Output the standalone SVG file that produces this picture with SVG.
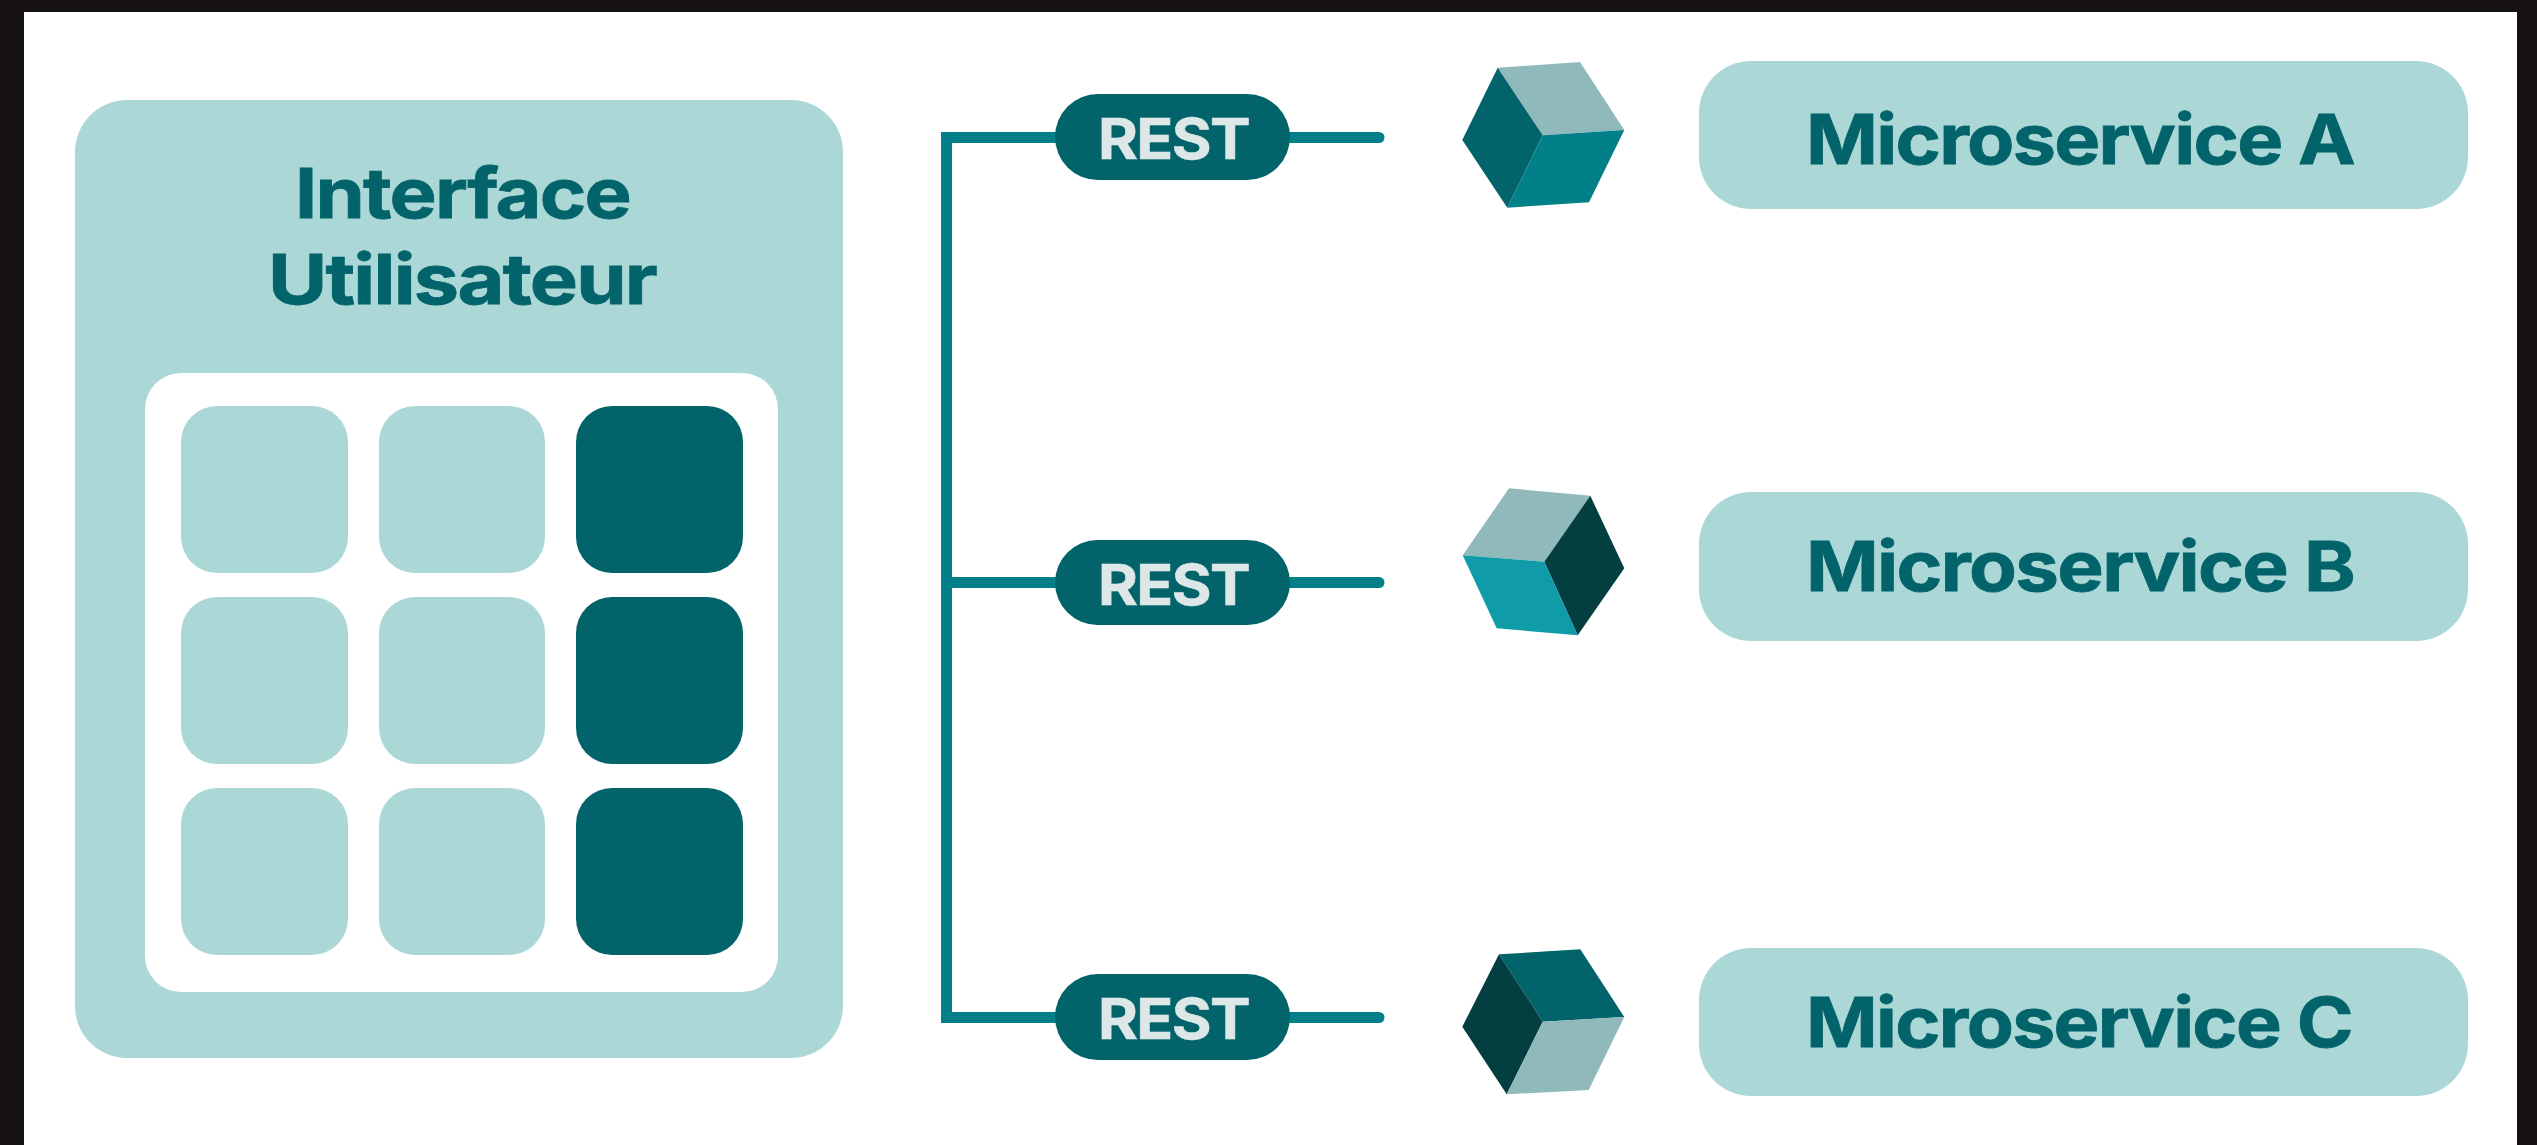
<svg xmlns="http://www.w3.org/2000/svg" width="2537" height="1145" viewBox="0 0 2537 1145">
<style>
.light{fill:#acd7d7}
.dark{fill:#02646a}
.title{font-family:Inter,"Liberation Sans",sans-serif;font-weight:700;fill:#02646a;font-size:69px;letter-spacing:-1.500px;stroke:#02646a;stroke-width:.8px}
.rest{font-family:Inter,"Liberation Sans",sans-serif;font-weight:700;fill:#dde7e7;font-size:57px;letter-spacing:-1.500px;stroke:#dde7e7;stroke-width:.6px}
.line{fill:none;stroke:#02808a;stroke-width:11}
</style>
<rect width="2537" height="1145" fill="#171312"/>
<rect x="24" y="12" width="2493" height="1133" fill="#fff"/>
<g id="connectors" class="line">
<path d="M1060 137.500H946.500V1017.500H1060"/>
<path d="M946.500 582.500H1060"/>
<path d="M1285 137.500H1379" stroke-linecap="round"/>
<path d="M1285 582.500H1379" stroke-linecap="round"/>
<path d="M1285 1017.500H1379" stroke-linecap="round"/>
</g>
<g id="ui">
<rect class="light" x="75" y="100" width="768" height="958" rx="52"/>
<text class="title" x="295" y="218" textLength="335" lengthAdjust="spacingAndGlyphs">Interface</text>
<text class="title" x="268" y="304" textLength="388" lengthAdjust="spacingAndGlyphs">Utilisateur</text>
<rect x="145" y="373" width="633" height="619" rx="36" fill="#fff"/>
<g id="tiles">
<rect class="light" x="181" y="406" width="167" height="167" rx="36"/>
<rect class="light" x="379" y="406" width="166" height="167" rx="36"/>
<rect class="dark" x="576" y="406" width="167" height="167" rx="36"/>
<rect class="light" x="181" y="597" width="167" height="167" rx="36"/>
<rect class="light" x="379" y="597" width="166" height="167" rx="36"/>
<rect class="dark" x="576" y="597" width="167" height="167" rx="36"/>
<rect class="light" x="181" y="788" width="167" height="167" rx="36"/>
<rect class="light" x="379" y="788" width="166" height="167" rx="36"/>
<rect class="dark" x="576" y="788" width="167" height="167" rx="36"/>
</g>
</g>
<g id="rest-a">
<rect class="dark" x="1055" y="94" width="235" height="86" rx="43"/>
<text class="rest" x="1098" y="159" textLength="151" lengthAdjust="spacingAndGlyphs">REST</text>
</g>
<g id="rest-b">
<rect class="dark" x="1055" y="540" width="235" height="85" rx="42.500"/>
<text class="rest" x="1098" y="605" textLength="151" lengthAdjust="spacingAndGlyphs">REST</text>
</g>
<g id="rest-c">
<rect class="dark" x="1055" y="974" width="235" height="86" rx="43"/>
<text class="rest" x="1098" y="1039" textLength="151" lengthAdjust="spacingAndGlyphs">REST</text>
</g>
<g id="cube-a">
<polygon fill="#8fb9ba" points="1497.700,67.700 1580,62 1624.300,130 1542.700,135.300"/>
<polygon fill="#02646a" points="1497.700,67.700 1542.700,135.300 1507.300,207.700 1462.300,140"/>
<polygon fill="#02808a" points="1542.700,135.300 1624.300,130 1589,202.300 1507.300,207.700"/>
</g>
<g id="cube-b">
<polygon fill="#8fb9ba" points="1509,488.300 1590.300,495.700 1544.300,561.700 1462.700,555.300"/>
<polygon fill="#033f40" points="1590.300,495.700 1624.300,568.300 1577.700,635.300 1544.300,561.700"/>
<polygon fill="#0f9ca8" points="1462.700,555.300 1544.300,561.700 1577.700,635.300 1496.700,628.300"/>
</g>
<g id="cube-c">
<polygon fill="#02646a" points="1499,954.300 1580.300,949.300 1624.300,1017 1542.700,1021.700"/>
<polygon fill="#033f40" points="1499,954.300 1542.700,1021.700 1506.700,1094.300 1462.300,1026.700"/>
<polygon fill="#8fb9ba" points="1542.700,1021.700 1624.300,1017 1588.700,1090 1506.700,1094.300"/>
</g>
<g id="microservice-a">
<rect class="light" x="1699" y="61" width="769" height="148" rx="52"/>
<text class="title" x="1806" y="163.500" textLength="548" lengthAdjust="spacingAndGlyphs">Microservice A</text>
</g>
<g id="microservice-b">
<rect class="light" x="1699" y="492" width="769" height="149" rx="52"/>
<text class="title" x="1806" y="591" textLength="548" lengthAdjust="spacingAndGlyphs">Microservice B</text>
</g>
<g id="microservice-c">
<rect class="light" x="1699" y="948" width="769" height="148" rx="52"/>
<text class="title" x="1806" y="1046.500" textLength="546" lengthAdjust="spacingAndGlyphs">Microservice C</text>
</g>
</svg>
